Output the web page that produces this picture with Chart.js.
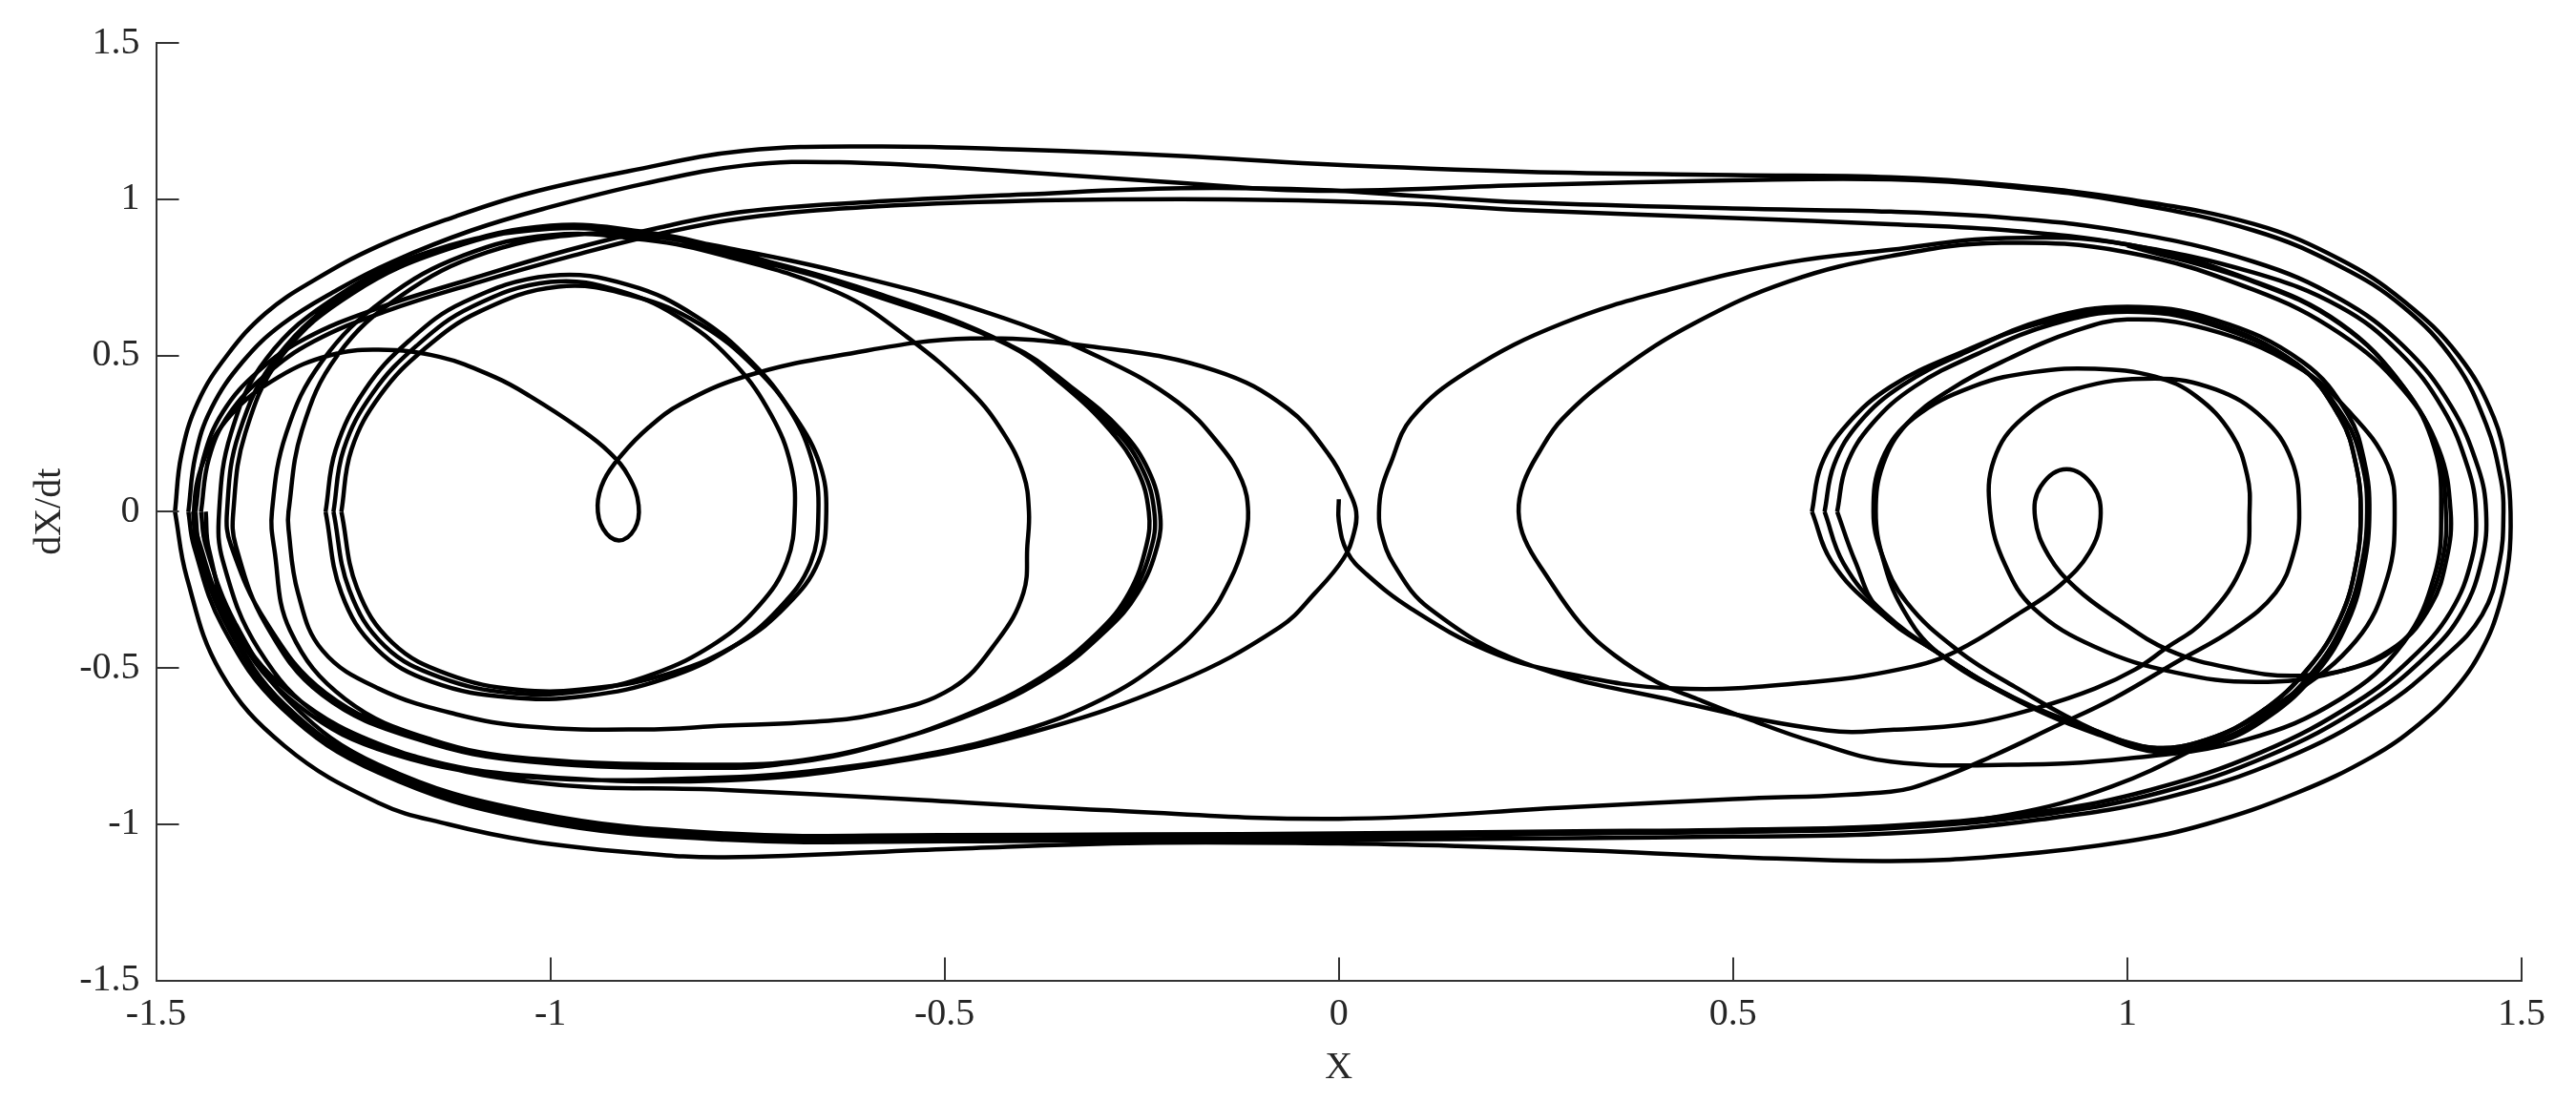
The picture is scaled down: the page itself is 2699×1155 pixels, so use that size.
<!DOCTYPE html>
<html><head><meta charset="utf-8">
<script src="https://cdn.jsdelivr.net/npm/chart.js@4.4.1/dist/chart.umd.min.js"></script>
<style>html,body{margin:0;padding:0;background:#fff;}</style>
</head><body>
<canvas id="c" width="2699" height="1155"></canvas>
<script>
// ---- tick values ----
const xTicks = [-1.5, -1, -0.5, 0, 0.5, 1, 1.5];
const yTicks = [-1.5, -1, -0.5, 0, 0.5, 1, 1.5];

// ---- left well: inner loops ----
const leftInner1 = [[-1.275,0],[-1.262,0.2],[-1.225,0.38],[-1.17,0.53],[-1.10,0.655],[-1.0,0.735],[-0.91,0.705],[-0.83,0.61],[-0.765,0.47],[-0.72,0.31],[-0.695,0.15],[-0.69,0],[-0.70,-0.16],[-0.735,-0.30],[-0.79,-0.42],[-0.87,-0.52],[-0.96,-0.575],[-1.05,-0.58],[-1.14,-0.53],[-1.21,-0.43],[-1.255,-0.25],[-1.275,0]];
const leftInner2 = [[-1.285,0],[-1.272,0.2],[-1.235,0.39],[-1.18,0.545],[-1.11,0.67],[-1.0,0.755],[-0.9,0.725],[-0.815,0.625],[-0.745,0.48],[-0.695,0.32],[-0.667,0.155],[-0.66,0],[-0.67,-0.165],[-0.71,-0.31],[-0.77,-0.435],[-0.855,-0.535],[-0.955,-0.59],[-1.05,-0.595],[-1.15,-0.545],[-1.22,-0.44],[-1.265,-0.26],[-1.285,0]];
const leftInner3 = [[-1.265,0],[-1.252,0.2],[-1.215,0.375],[-1.16,0.52],[-1.09,0.64],[-0.99,0.72],[-0.895,0.69],[-0.81,0.6],[-0.74,0.46],[-0.69,0.305],[-0.658,0.15],[-0.65,0],[-0.66,-0.16],[-0.70,-0.30],[-0.76,-0.42],[-0.845,-0.515],[-0.945,-0.565],[-1.04,-0.57],[-1.13,-0.52],[-1.20,-0.42],[-1.245,-0.245],[-1.265,0]];

// ---- left well: heart-shaped curl and wider loops ----
const heartArc = [[-1.452,0.00],[-1.44,0.16],[-1.405,0.31],[-1.345,0.43],[-1.28,0.50],[-1.218,0.518],[-1.14,0.495],[-1.07,0.43],[-1.026,0.37],[-0.965,0.27],[-0.925,0.19],[-0.90,0.11],[-0.888,0.02],[-0.893,-0.055],[-0.913,-0.092],[-0.933,-0.055],[-0.94,0.02],[-0.932,0.10],[-0.91,0.18],[-0.875,0.27],[-0.834,0.345],[-0.754,0.432],[-0.634,0.50],[-0.467,0.554],[-0.30,0.524],[-0.156,0.451],[-0.065,0.33],[-0.012,0.18],[0.012,0.07],[0.022,0.0],[0.019,-0.07],[0.006,-0.15],[-0.03,-0.26],[-0.075,-0.37],[-0.204,-0.545],[-0.395,-0.71],[-0.587,-0.81],[-0.778,-0.86],[-1.026,-0.845],[-1.169,-0.785],[-1.289,-0.66],[-1.37,-0.44],[-1.415,-0.16],[-1.42,0.0]];
const mid24aTop = [[-1.42,0.0],[-1.405,0.25],[-1.36,0.49],[-1.27,0.69],[-1.15,0.835],[-1.0,0.905],[-0.88,0.885],[-0.778,0.835],[-0.587,0.70],[-0.419,0.535],[-0.347,0.40],[-0.29,0.26],[-0.255,0.13],[-0.241,0.0]];
const mid24aBot = [[-0.244,-0.108],[-0.266,-0.26],[-0.305,-0.385],[-0.376,-0.528],[-0.472,-0.65],[-0.59,-0.752],[-0.685,-0.80],[-0.778,-0.82],[-1.026,-0.80],[-1.169,-0.728],[-1.289,-0.587],[-1.361,-0.36],[-1.399,-0.108],[-1.402,0.0]];
const mid24bTop = [[-1.387,0.25],[-1.34,0.5],[-1.25,0.7],[-1.13,0.84],[-1.0,0.91],[-0.88,0.89],[-0.778,0.83],[-0.587,0.696],[-0.419,0.533],[-0.347,0.40],[-0.283,0.26],[-0.248,0.13],[-0.234,0.0]];
const mid24bBot = [[-0.237,-0.108],[-0.261,-0.26],[-0.30,-0.383],[-0.371,-0.526],[-0.467,-0.648],[-0.587,-0.749],[-0.682,-0.80],[-0.778,-0.815],[-1.026,-0.795],[-1.169,-0.72],[-1.285,-0.58],[-1.36,-0.355],[-1.405,-0.108],[-1.41,0.0]];
const mid24cTop = [[-1.395,0.25],[-1.345,0.5],[-1.255,0.7],[-1.13,0.845],[-1.0,0.915],[-0.88,0.895],[-0.778,0.84],[-0.587,0.69],[-0.415,0.53],[-0.34,0.40],[-0.276,0.26],[-0.241,0.13],[-0.227,0.0]];
const mid24cBot = [[-0.23,-0.108],[-0.255,-0.26],[-0.295,-0.38],[-0.366,-0.524],[-0.462,-0.645],[-0.583,-0.745],[-0.68,-0.795],[-0.778,-0.81],[-1.026,-0.79],[-1.15,-0.73],[-1.26,-0.60],[-1.33,-0.38],[-1.35,-0.12],[-1.353,0.0]];
const mid39Top = [[-1.335,0.25],[-1.29,0.48],[-1.21,0.68],[-1.11,0.82],[-1.0,0.885],[-0.88,0.87],[-0.778,0.818],[-0.634,0.70],[-0.548,0.56],[-0.467,0.385],[-0.425,0.25],[-0.40,0.12],[-0.393,0.0]];
const mid39Bot = [[-0.395,-0.108],[-0.40,-0.26],[-0.433,-0.413],[-0.491,-0.566],[-0.587,-0.648],[-0.682,-0.675],[-0.778,-0.685],[-0.882,-0.697],[-1.026,-0.688],[-1.12,-0.648],[-1.218,-0.566],[-1.289,-0.444],[-1.32,-0.26],[-1.332,-0.056],[-1.332,0.0]];
const mid11Top = [[-1.315,0.26],[-1.27,0.5],[-1.19,0.69],[-1.08,0.83],[-0.95,0.89],[-0.85,0.875],[-0.778,0.845],[-0.634,0.768],[-0.443,0.635],[-0.30,0.49],[-0.204,0.35],[-0.15,0.21],[-0.123,0.1],[-0.115,0.0]];
const mid11Bot = [[-0.12,-0.1],[-0.138,-0.22],[-0.17,-0.35],[-0.225,-0.48],[-0.30,-0.60],[-0.40,-0.70],[-0.52,-0.775],[-0.634,-0.82],[-0.778,-0.85],[-1.026,-0.85],[-1.2,-0.775],[-1.32,-0.62],[-1.40,-0.38],[-1.433,-0.12],[-1.437,0.0]];

// ---- orbits crossing between both wells ----
const outer1 = [[-1.476,0],[-1.468,0.18],[-1.447,0.35],[-1.41,0.50],[-1.361,0.635],[-1.30,0.74],[-1.218,0.85],[-1.12,0.945],[-1.026,1.02],[-0.9,1.09],[-0.754,1.155],[-0.587,1.169],[-0.395,1.158],[-0.2,1.138],[-0.027,1.113],[0.235,1.088],[0.5,1.077],[0.70,1.07],[0.85,1.045],[1.0,1.0],[1.161,0.92],[1.27,0.807],[1.35,0.675],[1.42,0.50],[1.465,0.30],[1.482,0.12],[1.486,0],[1.484,-0.15],[1.472,-0.30],[1.45,-0.44],[1.415,-0.57],[1.37,-0.68],[1.31,-0.785],[1.215,-0.90],[1.1,-1.0],[1.0,-1.055],[0.85,-1.10],[0.70,-1.118],[0.5,-1.105],[0.32,-1.085],[0.15,-1.07],[0.0,-1.062],[-0.25,-1.06],[-0.5,-1.08],[-0.778,-1.106],[-0.9,-1.09],[-1.026,-1.054],[-1.13,-1.0],[-1.218,-0.932],[-1.337,-0.75],[-1.418,-0.514],[-1.461,-0.21],[-1.476,0]];
const outer2 = [[-1.459,0],[-1.45,0.18],[-1.43,0.33],[-1.39,0.48],[-1.34,0.60],[-1.27,0.71],[-1.2,0.80],[-1.1,0.90],[-1.0,0.975],[-0.88,1.05],[-0.754,1.108],[-0.634,1.118],[-0.44,1.093],[-0.2,1.052],[-0.027,1.027],[0.235,1.045],[0.5,1.06],[0.70,1.063],[0.85,1.04],[1.0,0.99],[1.16,0.90],[1.27,0.785],[1.35,0.655],[1.415,0.48],[1.455,0.28],[1.474,0.1],[1.477,0],[1.472,-0.16],[1.45,-0.33],[1.40,-0.47],[1.32,-0.63],[1.2,-0.79],[1.05,-0.915],[0.891,-0.985],[0.70,-1.03],[0.5,-1.04],[0.3,-1.045],[0.0,-1.05],[-0.25,-1.05],[-0.5,-1.055],[-0.778,-1.05],[-1.026,-0.985],[-1.218,-0.835],[-1.34,-0.63],[-1.415,-0.37],[-1.452,-0.11],[-1.459,0]];
const outer3 = [[-1.45,0],[-1.44,0.17],[-1.415,0.32],[-1.37,0.45],[-1.31,0.555],[-1.22,0.65],[-1.1,0.745],[-0.98,0.835],[-0.86,0.91],[-0.754,0.96],[-0.6,0.99],[-0.4,1.015],[-0.2,1.035],[-0.027,1.03],[0.1,1.01],[0.235,0.99],[0.5,0.97],[0.70,0.96],[0.85,0.94],[1.0,0.895],[1.16,0.80],[1.27,0.68],[1.35,0.53],[1.41,0.34],[1.445,0.14],[1.455,0],[1.45,-0.15],[1.425,-0.32],[1.38,-0.46],[1.30,-0.62],[1.18,-0.78],[1.04,-0.9],[0.891,-0.97],[0.70,-1.013],[0.5,-1.025],[0.3,-1.03],[0.0,-1.037],[-0.25,-1.04],[-0.5,-1.045],[-0.778,-1.04],[-1.026,-0.97],[-1.218,-0.82],[-1.337,-0.617],[-1.408,-0.36],[-1.445,-0.108],[-1.45,0]];
const outer4 = [[-1.443,0],[-1.433,0.17],[-1.408,0.31],[-1.36,0.44],[-1.30,0.545],[-1.21,0.64],[-1.09,0.735],[-0.97,0.82],[-0.86,0.89],[-0.754,0.94],[-0.6,0.975],[-0.4,0.995],[-0.2,1.0],[-0.027,0.995],[0.1,0.985],[0.235,0.965],[0.5,0.94],[0.70,0.92],[0.85,0.90],[1.0,0.855],[1.16,0.765],[1.27,0.655],[1.345,0.51],[1.40,0.33],[1.432,0.14],[1.442,0],[1.437,-0.15],[1.41,-0.32],[1.36,-0.47],[1.29,-0.61],[1.17,-0.77],[1.03,-0.89],[0.891,-0.96],[0.70,-1.005],[0.5,-1.018],[0.3,-1.023],[0.0,-1.03],[-0.25,-1.033],[-0.5,-1.035],[-0.778,-1.03],[-1.026,-0.96],[-1.218,-0.81],[-1.33,-0.61],[-1.40,-0.355],[-1.437,-0.108],[-1.443,0]];

// ---- right well: inner loops ----
const rightInner1 = [[0.60,0],[0.612,0.15],[0.645,0.28],[0.70,0.40],[0.783,0.503],[0.891,0.604],[1.0,0.646],[1.107,0.604],[1.215,0.472],[1.27,0.30],[1.29,0.15],[1.296,0],[1.29,-0.17],[1.27,-0.34],[1.23,-0.50],[1.17,-0.64],[1.10,-0.73],[1.03,-0.755],[0.959,-0.70],[0.857,-0.596],[0.755,-0.444],[0.68,-0.31],[0.625,-0.16],[0.60,0]];
const rightInner2 = [[0.616,0],[0.628,0.15],[0.66,0.285],[0.715,0.405],[0.795,0.51],[0.895,0.615],[1.0,0.656],[1.11,0.615],[1.222,0.48],[1.28,0.31],[1.301,0.155],[1.307,0],[1.30,-0.175],[1.28,-0.35],[1.24,-0.515],[1.18,-0.655],[1.11,-0.745],[1.04,-0.77],[0.965,-0.715],[0.865,-0.61],[0.765,-0.46],[0.69,-0.32],[0.64,-0.165],[0.616,0]];
const rightInner4 = [[0.632,0],[0.644,0.15],[0.676,0.28],[0.73,0.40],[0.81,0.505],[0.905,0.6],[1.0,0.64],[1.105,0.60],[1.215,0.47],[1.275,0.30],[1.298,0.15],[1.304,0],[1.297,-0.17],[1.276,-0.345],[1.236,-0.51],[1.176,-0.65],[1.105,-0.74],[1.035,-0.762],[0.962,-0.708],[0.861,-0.603],[0.76,-0.452],[0.685,-0.315],[0.655,-0.16],[0.632,0]];
const rightInner3Band = [[1.035,-0.762],[0.962,-0.708],[0.861,-0.603],[0.76,-0.452],[0.715,-0.31],[0.69,-0.15],[0.681,0],[0.69,0.15],[0.72,0.28],[0.775,0.39],[0.85,0.49],[0.93,0.575],[1.0,0.615],[1.1,0.585],[1.215,0.465],[1.285,0.31],[1.33,0.15],[1.339,0],[1.33,-0.209],[1.29,-0.413],[1.2,-0.6],[1.1,-0.74],[0.98,-0.88],[0.85,-0.97],[0.70,-1.008],[0.5,-1.02],[0.3,-1.03],[0.0,-1.042],[-0.25,-1.045],[-0.5,-1.05],[-0.778,-1.045],[-1.026,-0.978],[-1.218,-0.828],[-1.338,-0.625],[-1.41,-0.365],[-1.448,-0.108],[-1.453,0]];

// ---- right well: wider loops and curl ----
const preR1 = [[0.891,0.604],[1.0,0.646],[1.107,0.604],[1.215,0.472],[1.27,0.30],[1.29,0.15],[1.296,0],[1.29,-0.17],[1.27,-0.34],[1.23,-0.50],[1.17,-0.64],[1.10,-0.73],[1.03,-0.755],[0.959,-0.70],[0.857,-0.56],[0.785,-0.444],[0.72,-0.29],[0.689,-0.138]];
const arcR1 = [[0.678,0],[0.689,0.167],[0.729,0.299],[0.805,0.401],[0.882,0.447],[0.959,0.457],[1.035,0.432],[1.087,0.37],[1.132,0.249],[1.152,0.116],[1.155,0]];
const lowR1 = [[1.148,-0.16],[1.10,-0.342],[1.045,-0.444],[1.01,-0.505],[0.959,-0.566],[0.887,-0.627],[0.805,-0.677],[0.704,-0.698]];
const bottomR05 = [[0.619,-0.70],[0.427,-0.606],[0.235,-0.484],[0.115,-0.31],[0.07,-0.17],[0.053,-0.06],[0.051,0]];
const topR05 = [[0.054,0.07],[0.065,0.15],[0.092,0.298],[0.164,0.45],[0.284,0.603],[0.427,0.716],[0.571,0.798],[0.70,0.838],[0.837,0.875],[1.0,0.855],[1.161,0.737],[1.27,0.603],[1.35,0.40],[1.393,0.197],[1.404,0]];
const curlRight = [[1.40,-0.15],[1.38,-0.3],[1.35,-0.413],[1.30,-0.49],[1.215,-0.525],[1.13,-0.50],[1.053,-0.444],[0.985,-0.34],[0.935,-0.245],[0.90,-0.14],[0.883,-0.02],[0.89,0.08],[0.923,0.136],[0.957,0.08],[0.966,-0.02],[0.952,-0.13],[0.915,-0.235],[0.86,-0.33],[0.785,-0.444],[0.729,-0.495],[0.602,-0.545],[0.427,-0.566],[0.283,-0.515],[0.188,-0.444],[0.092,-0.311],[0.035,-0.2],[0.0105,-0.128],[0.0,-0.03],[0.0,0.04]];
const preR23 = [[1.0,0.852],[1.161,0.735],[1.27,0.60],[1.35,0.40],[1.39,0.2],[1.398,0],[1.39,-0.2],[1.35,-0.42],[1.27,-0.6],[1.15,-0.73],[1.0,-0.79],[0.85,-0.81],[0.70,-0.80]];
const bottomR23 = [[0.60,-0.735],[0.523,-0.667],[0.455,-0.60],[0.403,-0.545],[0.35,-0.46],[0.307,-0.36],[0.262,-0.2],[0.236,-0.09],[0.228,0]];
const topR23 = [[0.234,0.09],[0.254,0.19],[0.284,0.298],[0.355,0.45],[0.451,0.603],[0.571,0.737],[0.70,0.818],[0.84,0.86],[1.0,0.83],[1.16,0.71],[1.27,0.57],[1.35,0.39],[1.395,0.2],[1.41,0]];
const preR2 = [[1.405,-0.15],[1.385,-0.3],[1.341,-0.43],[1.264,-0.515],[1.163,-0.545],[1.061,-0.515],[0.959,-0.433],[0.882,-0.311],[0.845,-0.17]];
const arcR2 = [[0.826,0],[0.831,0.167],[0.867,0.299],[0.933,0.391],[1.035,0.426],[1.112,0.391],[1.172,0.299],[1.208,0.167],[1.218,0]];
const lowR2 = [[1.21,-0.14],[1.188,-0.26],[1.137,-0.372],[1.061,-0.483],[0.984,-0.596],[0.908,-0.688],[0.831,-0.78],[0.755,-0.86]];
const crossBottom = [[0.70,-0.896],[0.5,-0.92],[0.3,-0.945],[0.0,-0.983],[-0.3,-0.955],[-0.55,-0.92],[-0.778,-0.891],[-1.026,-0.865],[-1.2,-0.76],[-1.33,-0.58],[-1.41,-0.33],[-1.445,-0.1]];

function join(...parts) {
  const out = [];
  parts.forEach(p => p.forEach(pt => {
    const last = out[out.length - 1];
    if (!last || last[0] !== pt[0] || last[1] !== pt[1]) out.push(pt);
  }));
  return out;
}

const curves = [
  join(preR23, bottomR23, topR23, preR2, arcR2, lowR2, crossBottom, heartArc, mid24aTop, mid24aBot, mid24bTop, mid24bBot, mid24cTop, mid24cBot, mid39Top, mid39Bot, mid11Top, mid11Bot),
  join(preR1, arcR1, lowR1, bottomR05, topR05, curlRight),
  leftInner1, leftInner2, leftInner3,
  outer1, outer2, outer3, outer4,
  rightInner1, rightInner2, rightInner4, rightInner3Band
];

const datasets = curves.map(c => ({
  data: c.map(p => ({x: p[0], y: p[1]})),
  showLine: true, borderColor: '#000', borderWidth: 4.5,
  pointRadius: 0, tension: 0.4, fill: false
}));

const serif = 'Liberation Serif';
const inTicks = {
  id: 'inTicks',
  afterDatasetsDraw(chart) {
    const {ctx, chartArea: a, scales: {x, y}} = chart;
    ctx.save();
    ctx.strokeStyle = '#333';
    ctx.lineWidth = 2;
    ctx.beginPath();
    xTicks.forEach(v => { const px = Math.round(x.getPixelForValue(v)); ctx.moveTo(px, a.bottom); ctx.lineTo(px, a.bottom - 24); });
    yTicks.forEach(v => { const py = Math.round(y.getPixelForValue(v)); ctx.moveTo(a.left, py); ctx.lineTo(a.left + 24, py); });
    ctx.stroke();
    ctx.restore();
  }
};

new Chart(document.getElementById('c'), {
  type: 'scatter',
  data: {datasets},
  plugins: [inTicks],
  options: {
    responsive: false, animation: false, devicePixelRatio: 1,
    layout: {padding: {top: 45, right: 57, left: 0, bottom: 0}},
    plugins: {legend: {display: false}, tooltip: {enabled: false}},
    scales: {
      x: {
        type: 'linear', min: -1.5, max: 1.5,
        afterBuildTicks: s => { s.ticks = xTicks.map(v => ({value: v})); },
        ticks: {callback: v => String(v), font: {family: serif, size: 40}, color: '#262626', padding: 12, maxRotation: 0, autoSkip: false},
        grid: {display: false, drawTicks: false},
        border: {display: true, color: '#333', width: 2},
        title: {display: true, text: 'X', font: {family: serif, size: 40}, color: '#262626', padding: {top: 0, bottom: 12}},
        afterFit: s => { s.height = 127.5; }
      },
      y: {
        type: 'linear', min: -1.5, max: 1.5,
        afterBuildTicks: s => { s.ticks = yTicks.map(v => ({value: v})); },
        ticks: {callback: v => String(v), font: {family: serif, size: 40}, color: '#262626', padding: 17},
        grid: {display: false, drawTicks: false},
        border: {display: true, color: '#333', width: 2},
        title: {display: true, text: 'dX/dt', font: {family: serif, size: 40}, color: '#262626', padding: {top: 28, bottom: 0}},
        afterFit: s => { s.width = 163.5; }
      }
    }
  }
});
</script>
</body></html>
